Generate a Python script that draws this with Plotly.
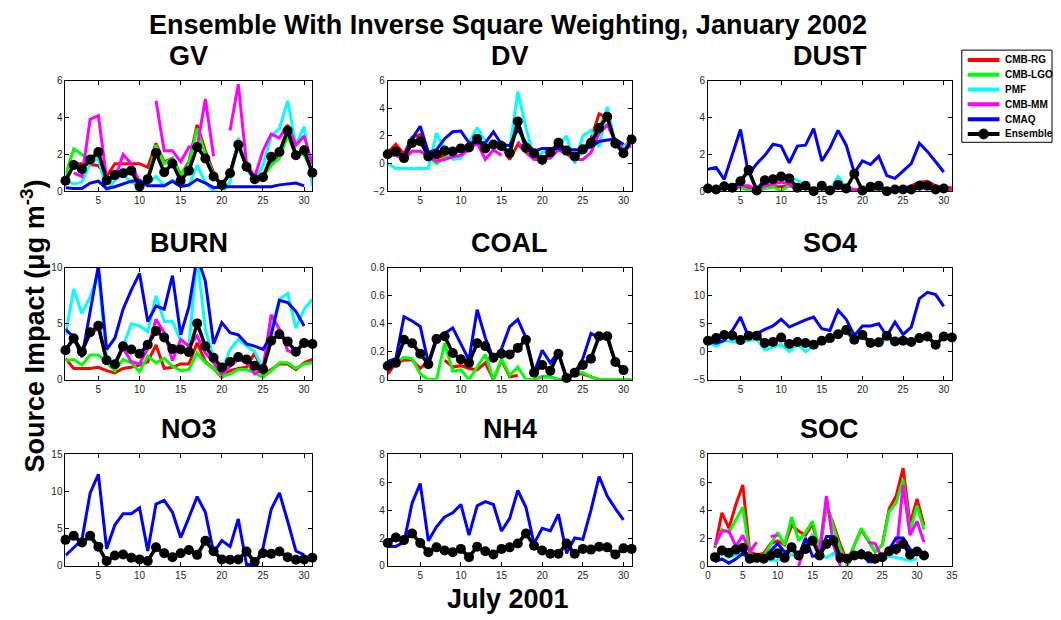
import plotly.graph_objects as go

W, H = 1061, 620
DAYS = list(range(1, 32))

# ---------------- data ----------------
GV_RG = [0.6,1.5,1.5,1.45,1.4,0.8,1.5,1.5,1.5,1.5,1.3,2.6,1.6,1.8,0.9,1.6,3.6,2.2,1.0,0.3,1.0,2.6,1.4,0.7,0.8,1.5,2.0,3.3,2.0,2.0,1.1]
GV_LGO = [0.9,2.3,2.0,1.7,1.9,0.6,1.0,1.1,1.3,0.3,0.7,2.5,1.5,1.8,0.9,1.5,3.4,2.0,0.9,0.4,1.0,2.5,1.3,0.7,0.8,1.4,1.8,3.0,2.0,2.0,1.1]
GV_PMF = [0.6,0.4,0.5,1.5,1.8,0.0,0.6,0.9,0.5,0.3,0.4,0.8,0.3,0.6,0.4,0.3,1.4,0.5,0.0,-0.1,0.5,2.9,1.2,0.6,1.4,3.0,3.4,4.9,2.5,3.5,0.3]
GV_MM = [None,1.0,0.8,3.9,4.1,0.7,0.7,2.0,1.5,0.5,None,4.9,2.2,2.2,1.6,2.4,2.4,5.0,1.9,None,3.3,5.8,1.5,0.8,2.2,3.1,2.9,3.6,2.5,3.0,1.5]
GV_CMAQ = [0.2,0.15,0.15,0.45,0.55,0.15,0.25,0.4,0.55,0.6,0.3,0.3,0.3,0.55,0.25,0.35,0.65,0.45,0.2,0.25,0.25,0.25,0.25,0.25,0.25,0.25,0.35,0.4,0.45,0.3]
GV_ENS = [0.57,1.42,1.2,1.72,2.13,0.59,0.89,0.98,1.12,0.27,0.66,2.08,1.03,1.51,0.59,1.12,2.4,1.78,0.8,0.34,0.98,2.52,1.33,0.66,0.76,1.87,2.13,3.29,1.95,2.22,1.01]

DV_RG = [0.8,1.4,0.7,1.9,2.1,0.6,0.4,0.6,0.8,1.0,1.3,1.6,1.2,1.4,1.3,0.3,1.4,0.8,0.6,0.2,0.6,1.3,0.9,0.5,1.0,1.8,3.6,3.3,1.5,1.2,1.8]
DV_LGO = [0.7,0.9,0.5,1.5,1.7,0.5,0.0,0.4,0.7,1.0,1.2,1.7,1.2,1.4,1.6,0.6,2.8,1.0,0.7,0.0,0.7,1.4,0.9,0.4,0.8,1.6,2.6,3.9,1.5,0.9,1.7]
DV_PMF = [0.0,-0.35,-0.35,-0.35,-0.35,-0.35,2.2,1.0,0.3,0.4,1.5,2.6,1.6,1.3,1.0,1.0,5.2,2.6,0.4,0.8,1.0,1.3,2.0,0.0,2.0,2.4,1.2,4.1,1.2,1.2,1.7]
DV_MM = [0.6,0.6,0.3,0.9,0.9,0.5,0.2,0.3,0.5,0.6,1.0,1.5,0.3,1.0,0.6,None,1.6,0.8,0.3,0.3,0.4,1.0,0.7,0.3,0.3,0.8,2.2,2.8,1.6,1.0,1.3]
DV_CMAQ = [0.9,0.9,0.5,1.8,2.7,0.8,1.0,1.8,2.3,2.35,1.5,1.5,1.5,2.3,1.4,1.3,2.5,1.5,0.9,1.1,1.1,1.1,1.0,1.0,1.0,1.2,1.6,1.7,1.75,1.4]
DV_ENS = [0.68,0.87,0.4,1.5,1.62,0.52,0.7,0.94,0.87,1.1,1.17,1.8,1.1,1.38,1.27,0.75,3.05,1.15,0.75,0.28,0.8,1.5,0.94,0.52,1.03,1.5,2.58,3.38,1.46,0.75,1.74]

DUST_RG = [0.2,0.15,0.2,0.2,0.25,0.2,0.2,0.2,0.25,0.25,0.3,0.2,0.2,0.15,0.2,0.15,0.2,0.2,0.1,0.05,0.1,0.1,0.05,0.1,0.15,0.3,0.5,0.55,0.3,0.2,0.2]
DUST_LGO = [0.15,0.1,0.25,0.15,0.2,0.05,0.0,0.15,0.25,0.0,0.35,0.3,0.2,0.1,0.15,0.05,0.2,0.1,0.05,0.0,0.05,0.1,0.0,0.05,0.1,0.1,0.2,0.2,0.1,0.1,0.05]
DUST_PMF = [0.2,0.1,0.3,0.0,0.6,1.0,0.1,0.75,0.7,0.85,0.8,0.6,0.3,0.0,0.3,0.0,0.8,0.2,0.0,0.0,0.2,0.3,0.0,0.1,0.1,0.1,0.2,0.2,0.05,0.1,0.0]
DUST_MM = [0.1,0.05,0.2,0.1,0.3,0.3,0.05,0.3,0.4,0.5,0.4,0.1,0.2,0.0,0.2,0.0,0.2,0.1,0.1,0.0,0.1,0.2,0.0,0.05,0.05,0.05,0.2,0.2,0.05,0.1,0.05]
DUST_CMAQ = [1.2,1.3,0.65,2.0,3.35,0.9,1.5,1.95,2.55,2.45,1.55,2.45,2.5,3.4,1.65,2.35,3.3,2.5,1.0,1.65,1.45,1.9,0.85,0.7,1.1,1.5,2.6,2.15,1.6,1.05]
DUST_ENS = [0.15,0.1,0.28,0.2,0.55,1.15,0.05,0.6,0.65,0.8,0.7,0.2,0.3,0.0,0.3,0.05,0.35,0.15,0.95,0.05,0.25,0.3,0.0,0.1,0.1,0.1,0.3,0.3,0.1,0.15]

BURN_RG = [1.9,1.0,1.0,1.0,1.1,0.8,0.6,1.0,1.1,1.3,1.6,3.1,1.0,1.1,1.4,1.4,3.3,1.6,1.0,0.2,0.8,1.0,1.1,2.4,0.5,0.9,1.4,1.4,0.9,1.5,1.8]
BURN_LGO = [1.7,1.8,1.3,2.2,2.2,1.5,0.8,1.8,1.5,0.7,2.1,1.5,1.9,1.2,0.8,0.9,2.4,1.5,1.0,0.3,0.5,0.9,0.9,0.6,0.2,0.8,1.5,1.5,1.0,1.4,1.5]
BURN_PMF = [4.0,8.1,5.9,7.4,9.5,2.0,1.2,2.9,5.0,4.8,4.3,7.5,5.2,5.2,3.5,3.0,11.0,4.5,2.0,0.8,2.7,3.6,3.0,2.5,1.0,4.5,7.2,7.7,4.6,6.3,7.2]
BURN_MM = [2.7,3.5,2.6,4.0,4.6,1.6,1.5,2.8,1.6,1.4,2.8,5.4,4.2,1.7,3.6,3.0,3.9,2.4,1.5,0.5,1.2,1.8,1.6,0.5,1.0,5.8,4.5,2.6,2.3,3.5,3.3]
BURN_CMAQ = [4.5,3.8,2.0,6.0,10.2,2.7,3.7,6.3,8.0,9.5,5.2,6.6,6.3,9.3,4.0,6.5,11.0,8.8,3.2,5.1,4.2,4.0,3.2,3.0,2.7,4.0,7.1,6.9,6.1,4.8]
BURN_ENS = [2.63,3.7,2.5,4.24,4.82,1.73,1.37,2.98,2.69,2.31,3.13,4.36,3.77,2.75,2.69,2.46,5.03,2.98,1.96,1.08,1.58,2.02,1.81,1.23,0.94,3.48,4.06,3.42,2.49,3.27,3.19]

COAL_RG = [0.04,0.12,0.14,0.14,0.08,0.13,None,0.14,0.09,0.1,0.08,0.07,0.12,0.0,0.14,0.02,0.03,None,0.0,0.02,0.02,0.0,0.0,0.04,0.04,0.02,0.0,0.0,0.0,0.0,0.0]
COAL_LGO = [0.08,0.12,0.16,0.15,0.04,0.0,0.0,0.26,0.06,0.07,0.0,0.09,0.18,0.0,0.15,0.03,0.09,0.0,0.0,0.02,0.02,0.0,0.0,0.05,0.05,0.02,0.0,0.0,0.0,0.0,0.0]
COAL_CMAQ = [0.13,0.15,0.45,0.42,0.38,0.12,0.3,0.33,0.37,0.25,0.14,0.5,0.3,0.15,0.22,0.38,0.43,0.3,0.05,0.21,0.12,0.2,0.0,0.05,0.15,0.33,0.3,0.3,0.12,0.07]
COAL_ENS = [0.098,0.12,0.285,0.26,0.185,0.11,0.29,0.31,0.19,0.145,0.12,0.26,0.24,0.157,0.185,0.18,0.227,0.285,0.05,0.105,0.063,0.185,0.012,0.05,0.105,0.15,0.31,0.31,0.126,0.068]

SO4_PMF = [1.6,1.0,2.0,1.8,1.6,2.0,2.2,0.3,0.8,1.3,0.0,1.3,0.0,1.0,1.6,2.1,2.8,3.4,2.0,2.5,1.5,1.5,2.2,1.8,1.8,1.6,2.3,2.5,1.2,2.5,2.3]
SO4_CMAQ = [1.8,1.5,2.0,3.8,6.2,2.6,3.2,4.0,4.6,5.8,4.4,5.1,5.7,6.2,4.1,3.8,7.4,5.8,2.9,4.6,4.6,5.0,2.8,5.3,3.1,4.4,9.5,10.6,10.2,8.1]
SO4_ENS = [1.96,2.43,3.0,2.9,2.07,2.84,2.84,1.55,1.73,2.54,1.37,1.73,1.55,1.26,1.96,2.43,3.13,3.89,2.13,3.0,1.55,1.67,2.84,1.84,1.96,1.73,2.43,2.72,1.26,2.72,2.54]

NO3_PMF = [3.3,3.8,3.0,3.8,2.4,0.5,1.3,1.4,1.0,0.8,0.6,2.3,1.6,1.1,1.6,2.0,1.3,3.2,1.8,0.8,0.8,0.8,1.8,0.4,1.6,1.5,1.8,1.1,0.8,0.8,1.0]
NO3_CMAQ = [1.4,2.5,3.5,9.8,12.3,2.3,5.5,7.0,7.0,7.8,2.0,8.3,8.8,7.2,3.8,6.5,9.3,7.2,1.8,3.4,2.6,6.3,0.2,0.2,2.4,7.6,9.8,6.0,2.0,1.5]
NO3_ENS = [3.5,4.04,3.16,4.04,2.59,0.66,1.4,1.54,1.1,0.88,0.66,2.5,1.71,1.18,1.71,2.15,1.49,3.38,1.97,0.88,0.83,0.88,1.93,0.53,1.71,1.62,1.93,1.18,0.83,0.88,1.1]

NH4_PMF = [1.6,2.0,1.8,2.3,1.6,1.0,1.3,1.1,1.0,1.2,0.7,1.4,1.0,0.8,1.2,1.3,1.6,2.3,1.5,1.1,0.9,0.9,1.6,0.9,1.2,1.2,1.4,1.3,0.8,1.3,1.4]
NH4_CMAQ = [1.4,1.4,1.7,4.5,5.9,1.8,2.8,3.5,3.8,4.4,2.2,4.3,4.6,4.4,2.5,3.4,5.4,4.2,1.6,2.7,2.5,3.7,0.9,2.0,1.9,4.0,6.4,5.0,4.1,3.3]
NH4_ENS = [1.64,2.04,1.85,2.32,1.64,0.98,1.33,1.1,0.98,1.22,0.63,1.38,1.05,0.82,1.22,1.33,1.61,2.32,1.45,1.1,0.87,0.87,1.61,0.87,1.22,1.17,1.38,1.33,0.82,1.26,1.22]

SOC_RG = [1.3,3.8,2.7,4.4,5.8,1.0,0.8,0.9,1.6,1.8,1.5,2.9,2.5,2.2,3.0,1.0,4.3,3.0,1.5,0.3,1.5,2.6,1.8,1.0,1.5,4.1,5.0,7.0,3.0,4.8,2.9]
SOC_LGO = [1.4,2.6,2.4,3.3,4.2,0.8,0.6,0.7,1.5,2.4,1.5,3.5,1.8,2.4,3.2,1.2,4.4,2.8,1.2,0.0,1.5,2.7,1.8,1.0,1.5,3.9,4.5,6.2,2.5,4.3,2.6]
SOC_PMF = [0.7,0.9,0.6,0.8,0.8,0.5,0.5,0.5,0.4,0.4,0.6,0.8,0.8,1.1,2.3,0.8,0.6,0.9,0.5,0.5,0.6,0.6,0.5,0.5,0.6,0.7,0.6,0.5,0.4,0.5]
SOC_MM = [1.5,2.5,2.5,1.4,2.2,1.0,1.7,None,2.1,2.2,None,None,0.0,1.5,2.0,1.0,5.0,1.5,0.0,None,None,None,1.7,1.6,0.5,None,0.8,5.8,2.2,3.2,1.7]
SOC_CMAQ = [0.3,0.5,0.2,0.5,0.9,0.5,0.5,0.4,1.1,1.6,1.0,1.2,0.7,2.0,0.7,0.8,2.1,2.1,0.6,0.5,0.7,1.1,0.3,0.3,0.6,1.2,2.0,2.0,1.2,0.9]
SOC_ENS = [0.63,1.1,0.94,1.17,1.29,0.51,0.58,0.51,0.75,0.91,0.58,1.33,0.75,1.22,1.8,0.75,1.57,1.8,0.58,0.51,0.75,0.82,0.7,0.51,0.63,1.05,1.22,1.57,0.8,1.03,0.75]

SERIES_NAMES = ["CMB-RG", "CMB-LGO", "PMF", "CMB-MM", "CMAQ", "Ensemble"]
PANEL_TITLES = ["GV", "DV", "DUST", "BURN", "COAL", "SO4", "NO3", "NH4", "SOC"]
PANEL_DATA = [
    [GV_RG, GV_LGO, GV_PMF, GV_MM, GV_CMAQ, GV_ENS],
    [DV_RG, DV_LGO, DV_PMF, DV_MM, DV_CMAQ, DV_ENS],
    [DUST_RG, DUST_LGO, DUST_PMF, DUST_MM, DUST_CMAQ, DUST_ENS],
    [BURN_RG, BURN_LGO, BURN_PMF, BURN_MM, BURN_CMAQ, BURN_ENS],
    [COAL_RG, COAL_LGO, None, None, COAL_CMAQ, COAL_ENS],
    [None, None, SO4_PMF, None, SO4_CMAQ, SO4_ENS],
    [None, None, NO3_PMF, None, NO3_CMAQ, NO3_ENS],
    [None, None, NH4_PMF, None, NH4_CMAQ, NH4_ENS],
    [SOC_RG, SOC_LGO, SOC_PMF, SOC_MM, SOC_CMAQ, SOC_ENS],
]
Y_RANGES = [[0, 6], [-2, 6], [0, 6], [0, 10], [0, 0.8], [-5, 15], [0, 15], [0, 8], [0, 8]]
Y_DTICK = [2, 2, 2, 5, 0.2, 5, 5, 2, 2]
X_RANGES = [[1, 31]] * 8 + [[0, 35]]

# ---------------- styling / layout ----------------
COLORS = ["#ff0000", "#00ff00", "#00ffff", "#ff00ff", "#0000ff", "#000000"]
FONT = "Liberation Sans, Arial, Helvetica, sans-serif"
TITLE_SIZE = 27
COLS_PX = [(63, 312), (388, 634), (711, 957)]
ROWS_PX = [(76, 189), (267, 381), (457, 571)]


def px(x):
    return x / W


def py(y):
    return 1 - y / H


fig = go.Figure()
layout = {}
annotations = []
shapes = []

for i, title in enumerate(PANEL_TITLES):
    r, c = divmod(i, 3)
    n = i + 1
    sfx = "" if n == 1 else str(n)
    for k, ys in enumerate(PANEL_DATA[i]):
        if ys is None:
            continue
        is_ens = k == 5
        fig.add_trace(go.Scatter(
            x=DAYS[:len(ys)], y=ys, name=SERIES_NAMES[k],
            mode="lines+markers" if is_ens else "lines",
            line=dict(color=COLORS[k], width=3.5 if is_ens else 3),
            marker=dict(size=10, color="#000000") if is_ens else None,
            cliponaxis=not is_ens,
            showlegend=False,
            xaxis="x" + sfx, yaxis="y" + sfx,
        ))
    x0, x1 = COLS_PX[c]
    y0, y1 = ROWS_PX[r]
    common = dict(showline=True, linecolor="black", linewidth=1, mirror="ticks",
                  ticks="inside", ticklen=4, tickwidth=1, tickcolor="black",
                  showgrid=False, zeroline=False,
                  tickfont=dict(family=FONT, size=10, color="#262626"))
    layout["xaxis" + sfx] = dict(domain=[px(x0), px(x1)], anchor="y" + sfx,
                                 range=X_RANGES[i], tick0=0, dtick=5, **common)
    layout["yaxis" + sfx] = dict(domain=[py(y1), py(y0)], anchor="x" + sfx,
                                 range=Y_RANGES[i], tick0=0, dtick=Y_DTICK[i], **common)
    annotations.append(dict(text="<b>%s</b>" % title, xref="paper", yref="paper",
                            x=px((x0 + x1) / 2), y=py(y0 - 8), xanchor="center",
                            yanchor="bottom", showarrow=False,
                            font=dict(family=FONT, size=TITLE_SIZE, color="black")))

annotations.append(dict(text="<b>Ensemble With Inverse Square Weighting, January 2002</b>",
                        xref="paper", yref="paper", x=px(509), y=py(19),
                        xanchor="center", yanchor="middle", showarrow=False,
                        font=dict(family=FONT, size=TITLE_SIZE, color="black")))
annotations.append(dict(text="<b>July 2001</b>", xref="paper", yref="paper",
                        x=px(509), y=py(605), xanchor="center", yanchor="middle",
                        showarrow=False,
                        font=dict(family=FONT, size=TITLE_SIZE, color="black")))
annotations.append(dict(text="<b>Source Impact (μg m<sup>-3</sup>)</b>", xref="paper",
                        yref="paper", x=px(30), y=py(326), xanchor="center",
                        yanchor="middle", textangle=-90, showarrow=False,
                        font=dict(family=FONT, size=TITLE_SIZE, color="black")))

# legend box (drawn by hand to match the compact MATLAB legend)
LEG_X0, LEG_X1, LEG_Y0, LEG_Y1 = 967, 1058, 45, 139
shapes.append(dict(type="rect", xref="paper", yref="paper",
                   x0=px(LEG_X0), x1=px(LEG_X1), y0=py(LEG_Y1), y1=py(LEG_Y0),
                   line=dict(color="black", width=1), fillcolor="white"))
for k, name in enumerate(SERIES_NAMES):
    yy = 55 + 15.1 * k
    shapes.append(dict(type="line", xref="paper", yref="paper",
                       x0=px(973), x1=px(1005), y0=py(yy), y1=py(yy),
                       line=dict(color=COLORS[k], width=4)))
    if k == 5:
        shapes.append(dict(type="circle", xref="paper", yref="paper",
                           x0=px(984), x1=px(994), y0=py(yy + 5), y1=py(yy - 5),
                           line=dict(color="black", width=1), fillcolor="black"))
    annotations.append(dict(text="<b>%s</b>" % name, xref="paper", yref="paper",
                            x=px(1009), y=py(yy), xanchor="left", yanchor="middle",
                            showarrow=False,
                            font=dict(family=FONT, size=10, color="black")))

fig.update_layout(
    width=W, height=H, autosize=False,
    margin=dict(l=0, r=0, t=0, b=0),
    paper_bgcolor="white", plot_bgcolor="white",
    showlegend=False,
    annotations=annotations, shapes=shapes,
    **layout,
)

fig.write_html("out.html", config={"displayModeBar": False},
               post_script="document.body.style.margin='0';")
